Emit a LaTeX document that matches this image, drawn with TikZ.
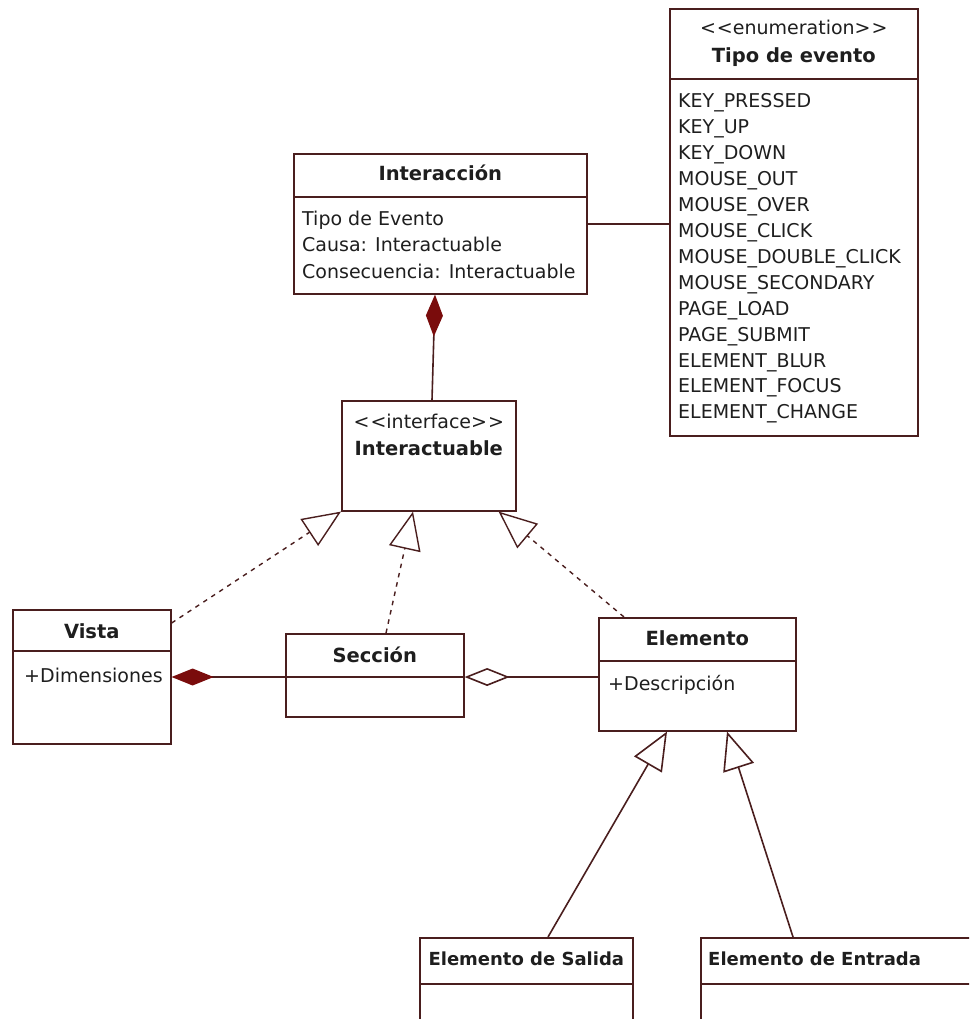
\documentclass[tikz,border=0pt]{standalone}
\usepackage{fontspec}
\setmainfont{DejaVu Sans}
\usetikzlibrary{positioning, arrows.meta, calc}
\definecolor{umlline}{HTML}{4A1E1E}
\definecolor{umlfill}{HTML}{7A0C0C}
\definecolor{umltext}{HTML}{1E1E1E}
\newcommand{\estereotipo}[1]{<\kern1pt<#1>\kern1pt>}

\tikzset{
  clase/.style={draw=umlline, line width=1.6pt, inner sep=0pt, anchor=north west},
  titulo/.style={font=\fontsize{19.5}{22}\selectfont\bfseries, text=umltext, inner sep=0pt, anchor=base},
  titulochico/.style={titulo, font=\fontsize{18}{22}\selectfont\bfseries},
  estereo/.style={font=\fontsize{19}{22}\selectfont, text=umltext, inner sep=0pt, anchor=base},
  attr/.style={font=\fontsize{19}{26}\selectfont, text=umltext, inner sep=0pt, anchor=base west},
  enlace/.style={draw=umlline, line width=1.6pt},
  realiza/.style={enlace, line width=1.4pt, dash pattern=on 4.5pt off 5pt, -{Triangle[open, length=38pt, width=32pt, line width=1.4pt]}},
  hereda/.style={enlace, -{Triangle[open, length=38pt, width=32pt]}},
  compone/.style={enlace, -{Diamond[length=42pt, width=17pt, fill=umlfill, color=umlfill]}},
  agrega/.style={enlace, -{Diamond[open, length=45pt, width=18pt]}},
}

\begin{document}
\begin{tikzpicture}[x=1pt, y=-1pt]
  \clip (0,0) rectangle (969,1019);

  % clases
  \node[clase, minimum width=248pt, minimum height=427pt] (tipo) at (669,8) {};
  \node[clase, minimum width=293pt, minimum height=140pt] (interaccion) at (293,153) {};
  \node[clase, minimum width=174pt, minimum height=110pt] (interfaz) at (341,400) {};
  \node[clase, minimum width=158pt, minimum height=134pt] (vista) at (12,609) {};
  \node[clase, minimum width=178pt, minimum height=83pt] (seccion) at (285,633) {};
  \node[clase, minimum width=197pt, minimum height=113pt] (elemento) at (598,617) {};
  \node[clase, minimum width=213pt, minimum height=100pt] (salida) at (419,937) {};
  \node[clase, minimum width=300pt, minimum height=100pt] (entrada) at (700,937) {};

  % separadores
  \draw[enlace] ($(tipo.north west)+(0,71)$) -- ($(tipo.north east)+(0,71)$);
  \draw[enlace] ($(interaccion.north west)+(0,44)$) -- ($(interaccion.north east)+(0,44)$);
  \draw[enlace] ($(vista.north west)+(0,42)$) -- ($(vista.north east)+(0,42)$);
  \draw[enlace] ($(seccion.north west)+(0,44)$) -- ($(seccion.north east)+(0,44)$);
  \draw[enlace] ($(elemento.north west)+(0,44)$) -- ($(elemento.north east)+(0,44)$);
  \draw[enlace] ($(salida.north west)+(0,47)$) -- ($(salida.north east)+(0,47)$);
  \draw[enlace] ($(entrada.north west)+(0,47)$) -- ($(entrada.north east)+(0,47)$);

  % textos
  \node[estereo] (tipo-st) at ($(tipo.north)+(0,27)$) {\estereotipo{enumeration}};
  \node[titulo] (tipo-t) at ($(tipo.north)+(0,55)$) {Tipo de evento};
  \foreach \v [count=\i from 0] in {KEY\_PRESSED, KEY\_UP, KEY\_DOWN, MOUSE\_OUT,
      MOUSE\_OVER, MOUSE\_CLICK, MOUSE\_DOUBLE\_CLICK, MOUSE\_SECONDARY, PAGE\_LOAD,
      PAGE\_SUBMIT, ELEMENT\_BLUR, ELEMENT\_FOCUS, ELEMENT\_CHANGE}
    \node[attr] (tipo-\i) at ($(tipo.north west)+(9,100+25.9*\i)$) {\v};

  \node[titulo] (interaccion-t) at ($(interaccion.north)+(0,27)$) {Interacción};
  \foreach \v [count=\i from 0] in {Tipo de Evento, Causa: Interactuable,
      Consecuencia: Interactuable}
    \node[attr] (interaccion-\i) at ($(interaccion.north west)+(9,72+26.5*\i)$) {\v};

  \node[estereo] (interfaz-st) at ($(interfaz.north)+(0,28)$) {\estereotipo{interface}};
  \node[titulo] (interfaz-t) at ($(interfaz.north)+(0,55)$) {Interactuable};

  \node[titulo] (vista-t) at ($(vista.north)+(0,29)$) {Vista};
  \node[attr] (vista-a) at ($(vista.north west)+(12,73)$) {+Dimensiones};
  \node[titulo] (seccion-t) at ($(seccion.north)+(0,29)$) {Sección};
  \node[titulo] (elemento-t) at ($(elemento.north)+(0,28)$) {Elemento};
  \node[attr] (elemento-a) at ($(elemento.north west)+(10,73)$) {+Descripción};
  \node[titulochico] (salida-t) at ($(salida.north)+(0,28)$) {Elemento de Salida};
  \node[titulochico, anchor=base west] (entrada-t) at ($(entrada.north west)+(8,28)$) {Elemento de Entrada};

  % puntos de union
  \coordinate (secc-izq) at ($(seccion.north west)+(0,44)$);
  \coordinate (elem-izq) at ($(elemento.north west)+(0,60)$);

  % relaciones
  \draw[enlace] (interaccion.east) -- (interaccion.east -| tipo.west);
  \draw[compone] ($(interfaz.north west)+(91,0)$) -- ($(interaccion.south west)+(142,0)$);
  \draw[realiza] ($(vista.north east)+(0,14)$) -- (interfaz.south west);
  \draw[realiza] ($(seccion.north west)+(101,0)$) -- ($(interfaz.south west)+(72,0)$);
  \draw[realiza] ($(elemento.north west)+(26,0)$) -- ($(interfaz.south east)+(-18,0)$);
  \draw[compone] (secc-izq) -- (secc-izq -| vista.east);
  \draw[agrega] (elem-izq) -- (elem-izq -| seccion.east);
  \draw[hereda] ($(salida.north west)+(129,0)$) -- ($(elemento.south west)+(69,0)$);
  \draw[hereda] ($(entrada.north west)+(93,0)$) -- ($(elemento.south west)+(129,0)$);
\end{tikzpicture}
\end{document}
